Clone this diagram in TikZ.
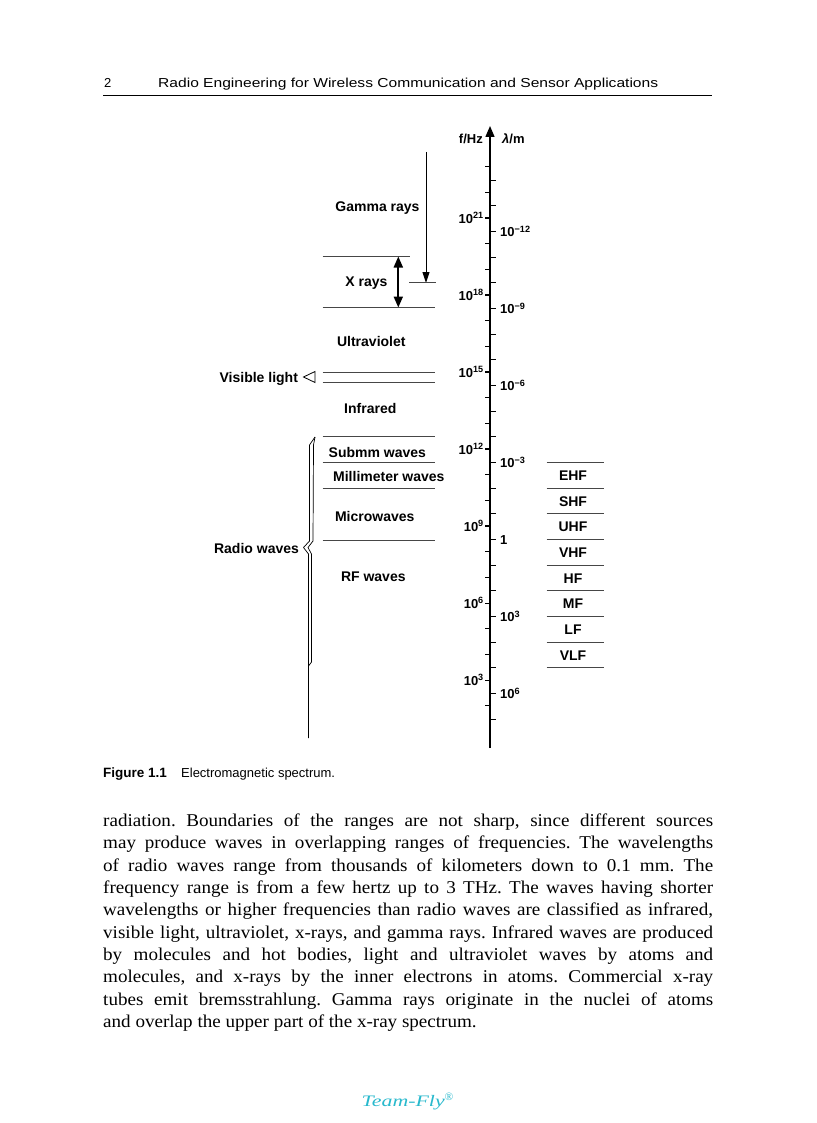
\documentclass[tikz,border=0pt]{standalone}
\usepackage{fontspec}
\usepackage{graphicx}
\setmainfont{Liberation Serif}
\newfontfamily\figsans{Liberation Sans}
\newfontfamily\bodyfont{Liberation Serif}[FakeStretch=1.06]
\usetikzlibrary{arrows.meta}
\definecolor{teamfly}{RGB}{40,185,205}
\definecolor{rulegray}{RGB}{70,70,70}
\tikzset{
  lbl/.style={font=\figsans\bfseries\fontsize{14}{16}\selectfont, inner sep=0pt, anchor=base},
  axl/.style={font=\figsans\bfseries\fontsize{13}{15}\selectfont, inner sep=0pt},
  sep/.style={line width=0.8pt, draw=rulegray},
  body/.style={font=\bodyfont\fontsize{18}{22}\selectfont\frenchspacing, inner sep=0pt, anchor=base west},
  tick/.style={line width=1.1pt},
}
\begin{document}
\begin{tikzpicture}[x=1pt,y=-1pt]
\fill[white] (0,0) rectangle (816,1123);
\useasboundingbox (0,0) rectangle (816,1123);

% header
\node[font=\figsans\fontsize{13}{15}\selectfont, inner sep=0pt, anchor=base west] (pno) at (104,87.3) {2};
\node[font=\figsans\fontsize{13}{15}\selectfont, inner sep=0pt, anchor=base west] (head) at (158,87.3)
  {\resizebox{500pt}{\height}{Radio Engineering for Wireless Communication and Sensor Applications}};
\coordinate (hr1) at (103,95.5); \coordinate (hr2) at (712,95.5);
\draw[line width=1.6pt] (hr1) -- (hr2);

% axis
\coordinate (axb) at (490,748); \coordinate (axt) at (490,126);
\draw[line width=1.4pt, -{Triangle[length=11pt,width=9pt]}] (axb) -- (axt);
\foreach \k in {2,...,23}{
  \coordinate (fl\k) at (490,{218+(21-\k)*25.67});
  \draw[tick] (fl\k) -- ++(-5.5,0);
}
\foreach \m in {-14,...,7}{
  \coordinate (lr\m) at (490,{218+(12.523+\m)*25.67});
  \draw[tick] (lr\m) -- ++(5.5,0);
}
\node[axl, anchor=base east] (fhz) at (483,143.3) {f/Hz};
\node[axl, anchor=base west] (lam) at (502,143.3) {\itshape λ\upshape/m};
\foreach \k in {21,18,15,12,9,6,3}{
  \node[axl, anchor=base east] (flab\k) at (484,{218+(21-\k)*25.67+5}) {10\textsuperscript{\k}};
}
\foreach \m/\t in {-12/{10\textsuperscript{−12}},-9/{10\textsuperscript{−9}},-6/{10\textsuperscript{−6}},-3/{10\textsuperscript{−3}},0/{1},3/{10\textsuperscript{3}},6/{10\textsuperscript{6}}}{
  \node[axl, anchor=base west] (llab\m) at (500,{218+(12.523+\m)*25.67+5.3}) {\t};
}

% bands on right
\foreach \m in {-3,...,5}{
  \coordinate (bl\m) at (546.7,{218+(12.523+\m)*25.67});
  \draw[sep] (bl\m) -- ++(57.3,0);
}
\foreach \m/\t in {-3/EHF,-2/SHF,-1/UHF,0/VHF,1/HF,2/MF,3/LF,4/VLF}{
  \node[lbl] (band\t) at (573,{218+(12.523+\m+0.5)*25.67+5.2}) {\t};
}

% left regions
\node[lbl] (gamma) at (377.5,212) {Gamma rays};
\coordinate (ga1) at (426,152); \coordinate (ga2) at (426,283);
\draw[line width=1pt, -{Triangle[length=11pt,width=7pt]}] (ga1) -- (ga2);
\coordinate (ge1) at (409,282.3); \coordinate (ge2) at (435.7,282.3);
\draw[sep] (ge1) -- (ge2);

\coordinate (xt1) at (322.7,256.3); \coordinate (xt2) at (410,256.3);
\draw[sep] (xt1) -- (xt2);
\coordinate (xa1) at (398.3,256.5); \coordinate (xa2) at (398.3,307.5);
\draw[line width=2pt, {Triangle[length=11pt,width=9pt]}-{Triangle[length=11pt,width=9pt]}] (xa1) -- (xa2);
\node[lbl] (xrays) at (366.5,286.7) {X rays};
\coordinate (xb1) at (322.7,307.7); \coordinate (xb2) at (435,307.7);
\draw[sep] (xb1) -- (xb2);

\node[lbl] (uv) at (371.3,346) {Ultraviolet};
\coordinate (v11) at (322.7,372.3); \coordinate (v12) at (435,372.3);
\coordinate (v21) at (322.7,382.7); \coordinate (v22) at (435,382.7);
\draw[sep] (v11) -- (v12);
\draw[sep] (v21) -- (v22);
\node[lbl] (vis) at (258.8,382.5) {Visible light};
\draw[line width=0.8pt] (315,371.5) -- (303.5,377) -- (315,382.5) -- cycle;

\node[lbl] (ir) at (370.3,413.3) {Infrared};
\coordinate (ir1) at (322.7,436.7); \coordinate (ir2) at (435,436.7);
\draw[sep] (ir1) -- (ir2);
\node[lbl] (subm) at (377.3,457) {Submm waves};
\coordinate (sm1) at (322.7,462.7); \coordinate (sm2) at (435,462.7);
\draw[sep] (sm1) -- (sm2);
\node[lbl] (mmw) at (388.8,481.5) {Millimeter waves};
\coordinate (mm1) at (322.7,488.3); \coordinate (mm2) at (435,488.3);
\draw[sep] (mm1) -- (mm2);
\node[lbl] (micro) at (374.7,521) {Microwaves};
\coordinate (mw1) at (322.7,540.3); \coordinate (mw2) at (435,540.3);
\draw[sep] (mw1) -- (mw2);
\node[lbl] (rf) at (373.3,581.7) {RF waves};

% radio brace
\node[lbl] (radio) at (256.5,553) {Radio waves};
\draw[line width=0.7pt, line join=round] (315,437) -- (309.5,445) -- (309.5,541) -- (303.5,547.5) -- (308.5,554) -- (308.5,738);
\draw[line width=0.7pt, line join=round] (315,437) -- (313.5,445) -- (313,541) -- (308,547.5) -- (311.5,554) -- (311.5,662) -- (308.5,666);

% caption
\node[font=\figsans\bfseries\fontsize{13.5}{15}\selectfont, inner sep=0pt, anchor=base west] (figno) at (103,777.7) {Figure 1.1};
\node[font=\figsans\fontsize{13}{15}\selectfont, inner sep=0pt, anchor=base west] (figcap) at (181,777.7) {Electromagnetic spectrum.};

% body text
\node[body] (b1) at (103,826.5) {\makebox[610pt][s]{radiation. Boundaries of the ranges are not sharp, since different sources}};
\node[body] (b2) at (103,848.8) {\makebox[610pt][s]{may produce waves in overlapping ranges of frequencies. The wavelengths}};
\node[body] (b3) at (103,871.2) {\makebox[610pt][s]{of radio waves range from thousands of kilometers down to 0.1 mm. The}};
\node[body] (b4) at (103,893.5) {\makebox[610pt][s]{frequency range is from a few hertz up to 3 THz. The waves having shorter}};
\node[body] (b5) at (103,915.8) {\makebox[610pt][s]{wavelengths or higher frequencies than radio waves are classified as infrared,}};
\node[body] (b6) at (103,938.2) {\makebox[610pt][s]{visible light, ultraviolet, x-rays, and gamma rays. Infrared waves are produced}};
\node[body] (b7) at (103,960.5) {\makebox[610pt][s]{by molecules and hot bodies, light and ultraviolet waves by atoms and}};
\node[body] (b8) at (103,982.8) {\makebox[610pt][s]{molecules, and x-rays by the inner electrons in atoms. Commercial x-ray}};
\node[body] (b9) at (103,1005.1) {\makebox[610pt][s]{tubes emit bremsstrahlung. Gamma rays originate in the nuclei of atoms}};
\node[body] (b10) at (103,1027.5) {and overlap the upper part of the x-ray spectrum.};

% footer
\node[font=\fontsize{16}{18}\selectfont\itshape, text=teamfly, inner sep=0pt, anchor=base west] (tf) at (361.5,1106.7)
  {\resizebox{83pt}{\height}{Team-Fly}\textsuperscript{\textregistered}};
\end{tikzpicture}
\end{document}
